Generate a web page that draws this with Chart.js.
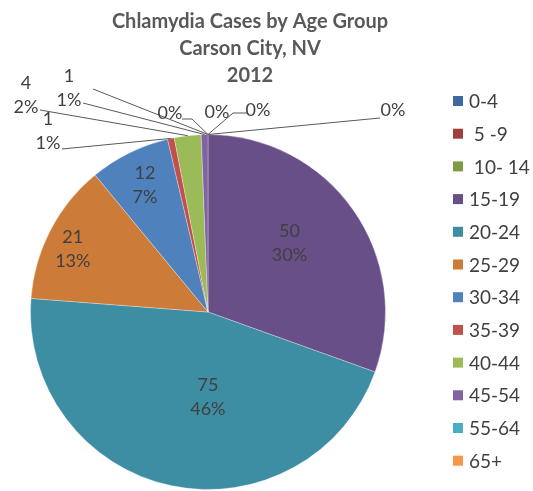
<!DOCTYPE html>
<html><head><meta charset="utf-8">
<script src="https://cdn.jsdelivr.net/npm/chart.js@4/dist/chart.umd.min.js"></script>
<style>html,body{margin:0;padding:0;background:#fff}#wrap{width:533px;height:491px;position:relative}</style>
</head><body><div id="wrap"><canvas id="c" width="533" height="491"></canvas></div>
<script>
const titleLines = ['Chlamydia Cases by Age Group', 'Carson City, NV', '2012'];
const categories = ['0-4', ' 5 -9', ' 10- 14', '15-19', '20-24', '25-29', '30-34', '35-39', '40-44', '45-54', '55-64', '65+'];
const cases = [0, 0, 0, 50, 75, 21, 12, 1, 4, 1, 0, 0];
const sliceColors = ['#3E6AA0', '#A03F3C', '#7E9B48', '#684F87', '#3D8DA3', '#CD7B39',
                     '#4F81BD', '#C0504D', '#9BBB59', '#8064A2', '#4BACC6', '#F79646'];

// label layout (styling only)
const FONT = 'Lato, "Open Sans", sans-serif';
const TEXT = '#404040';
const inside = { 3: [0.60, -5], 4: [0.48, -12], 5: [0.84, -2.5], 6: [0.80, 0] };
const outside = {
  0: { x: 217, y: 112 },
  1: { x: 258, y: 110, from: [247, 113], elbow: [233, 113] },
  2: { x: 393, y: 110, from: [380, 118] },
  7: { x: 48, y: 131, from: [62, 149] },
  8: { x: 26, y: 95, from: [40, 110] },
  9: { x: 69, y: 88, from: [83, 103] },
  10: { hidden: true, from: [93, 89] },
  11: { x: 170, y: 113, from: [182, 119], elbow: [192, 119] }
};

const total = cases.reduce((a, b) => a + b, 0);
const pct = v => Math.round(v / total * 100) + '%';

const decor = {
  id: 'decor',
  afterDraw(chart) {
    const ctx = chart.ctx;
    ctx.save();
    // title
    ctx.fillStyle = '#595959';
    ctx.textAlign = 'center';
    ctx.textBaseline = 'middle';
    ctx.font = 'bold 20px ' + FONT;
    titleLines.forEach((t, i) => ctx.fillText(t, 250, 22 + i * 27));
    // legend
    ctx.font = '19px ' + FONT;
    ctx.textAlign = 'left';
    categories.forEach((c, i) => {
      const y = 101 + i * 32.7;
      ctx.fillStyle = sliceColors[i];
      ctx.fillRect(453, y - 5, 10, 10);
      ctx.fillStyle = TEXT;
      ctx.fillText(c, 469, y + 1);
    });
    // data labels
    const meta = chart.getDatasetMeta(0);
    ctx.font = '18px ' + FONT;
    ctx.textAlign = 'center';
    meta.data.forEach((arc, i) => {
      const p = arc.getProps(['x', 'y', 'startAngle', 'endAngle', 'outerRadius'], true);
      const mid = (p.startAngle + p.endAngle) / 2;
      const v = cases[i];
      if (inside[i]) {
        const [r, da] = inside[i];
        const a = mid + da * Math.PI / 180;
        const lx = p.x + Math.cos(a) * p.outerRadius * r;
        const ly = p.y + Math.sin(a) * p.outerRadius * r;
        ctx.fillStyle = TEXT;
        ctx.fillText(String(v), lx, ly - 12);
        ctx.fillText(pct(v), lx, ly + 12);
      } else if (outside[i]) {
        const o = outside[i];
        const ax = p.x + Math.cos(mid) * p.outerRadius;
        const ay = p.y + Math.sin(mid) * p.outerRadius;
        if (o.from) {
          ctx.strokeStyle = '#595959';
          ctx.lineWidth = 1;
          ctx.beginPath();
          ctx.moveTo(o.from[0], o.from[1]);
          if (o.elbow) ctx.lineTo(o.elbow[0], o.elbow[1]);
          ctx.lineTo(ax, ay);
          ctx.stroke();
        }
        if (!o.hidden) {
          ctx.fillStyle = TEXT;
          if (v > 0) {
            ctx.fillText(String(v), o.x, o.y - 12);
            ctx.fillText(pct(v), o.x, o.y + 12);
          } else {
            ctx.fillText(pct(v), o.x, o.y);
          }
        }
      }
    });
    ctx.restore();
  }
};

new Chart(document.getElementById('c'), {
  type: 'pie',
  data: {
    labels: categories,
    datasets: [{
      data: cases,
      backgroundColor: sliceColors,
      borderColor: 'rgba(255,255,255,0.3)',
      borderWidth: 1
    }]
  },
  options: {
    responsive: false,
    animation: false,
    layout: { padding: { left: 30, right: 147, top: 134, bottom: 1 } },
    plugins: { legend: { display: false }, title: { display: false }, tooltip: { enabled: false } }
  },
  plugins: [decor]
});
</script></body></html>
